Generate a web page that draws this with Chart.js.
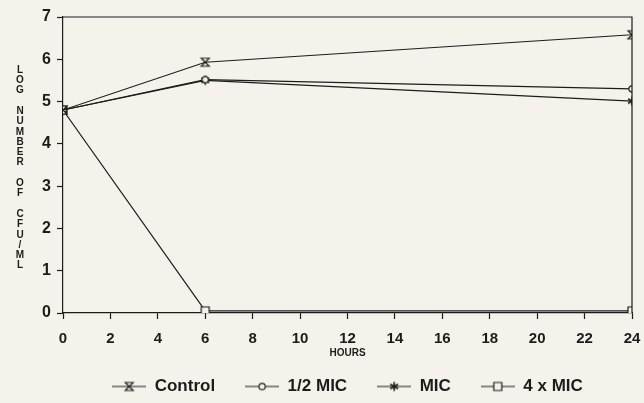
<!DOCTYPE html>
<html>
<head>
<meta charset="utf-8">
<script src="https://cdn.jsdelivr.net/npm/chart.js@4.4.1/dist/chart.umd.min.js"></script>
<style>
    html, body { margin: 0; padding: 0; background: #f4f2ea; }
    #wrap { width: 644px; height: 403px; position: relative; }
</style>
</head>
<body>
<div id="wrap"><canvas id="chart"></canvas></div>
<script>
// Data
const hours = [0, 6, 24];
const controlValues = [4.8, 5.93, 6.58];
const halfMicValues = [4.8, 5.52, 5.3];
const micValues = [4.8, 5.5, 5.01];
const fourMicValues = [4.8, 0.05, 0.05];
const seriesNames = ['Control', '1/2 MIC', 'MIC', '4 x MIC'];
const xTicks = [0, 2, 4, 6, 8, 10, 12, 14, 16, 18, 20, 22, 24];
const yTicks = [0, 1, 2, 3, 4, 5, 6, 7];
const yTitle = 'LOG NUMBER OF CFU/ML';

const ink = '#1c1c1c';
const paper = '#f4f2ea';

// Draw one marker shape on a context, centred at (cx, cy)
function drawMarker(ctx, kind, cx, cy) {
    ctx.strokeStyle = ink;
    ctx.fillStyle = paper;
    ctx.lineWidth = 1.2;
    ctx.beginPath();
    if (kind === 'hourglass') {
        ctx.moveTo(cx - 4, cy - 4); ctx.lineTo(cx + 4, cy - 4);
        ctx.lineTo(cx - 4, cy + 4); ctx.lineTo(cx + 4, cy + 4);
        ctx.closePath();
        ctx.fill();
        ctx.stroke();
    } else if (kind === 'circle') {
        ctx.arc(cx, cy, 3.2, 0, Math.PI * 2);
        ctx.fill();
        ctx.stroke();
    } else if (kind === 'star') {
        ctx.lineWidth = 1.6;
        for (let i = 0; i < 3; i++) {
            const a = Math.PI / 2 + i * Math.PI / 3;
            ctx.moveTo(cx + Math.cos(a) * 4.5, cy + Math.sin(a) * 4.5);
            ctx.lineTo(cx - Math.cos(a) * 4.5, cy - Math.sin(a) * 4.5);
        }
        ctx.stroke();
    } else if (kind === 'square') {
        ctx.rect(cx - 4, cy - 4, 8, 8);
        ctx.fill();
        ctx.stroke();
    }
}

// Canvas icon usable as a Chart.js pointStyle
function makeIcon(kind, w, h) {
    const c = document.createElement('canvas');
    c.width = w;
    c.height = h;
    const ctx = c.getContext('2d');
    if (w > h) {
        ctx.strokeStyle = ink;
        ctx.lineWidth = 1.2;
        ctx.beginPath();
        ctx.moveTo(0, h / 2);
        ctx.lineTo(w, h / 2);
        ctx.stroke();
    }
    drawMarker(ctx, kind, w / 2, h / 2);
    return c;
}

const markerKinds = ['hourglass', 'circle', 'star', 'square'];
const seriesValues = [controlValues, halfMicValues, micValues, fourMicValues];

const datasets = seriesNames.map((name, i) => ({
    label: name,
    data: hours.map((h, j) => ({ x: h, y: seriesValues[i][j] })),
    borderColor: ink,
    borderWidth: 1.2,
    pointStyle: makeIcon(markerKinds[i], 12, 12),
    pointRadius: 5,
    tension: 0,
    fill: false
}));

const legendIcons = markerKinds.map(k => makeIcon(k, 34, 12));

// Draws the top/right frame and the stacked y title
const framePlugin = {
    id: 'frame',
    afterDraw(chart) {
        const { ctx, chartArea } = chart;
        ctx.save();
        ctx.strokeStyle = ink;
        ctx.lineWidth = 1.2;
        ctx.beginPath();
        ctx.moveTo(chartArea.left, chartArea.top);
        ctx.lineTo(chartArea.right, chartArea.top);
        ctx.lineTo(chartArea.right, chartArea.bottom);
        ctx.stroke();

        ctx.fillStyle = ink;
        ctx.font = 'bold 10px "Liberation Sans", Arial, sans-serif';
        ctx.textAlign = 'center';
        ctx.textBaseline = 'middle';
        for (let i = 0; i < yTitle.length; i++) {
            ctx.fillText(yTitle[i], 20, 70 + i * 10.3);
        }
        ctx.restore();
    }
};

new Chart(document.getElementById('chart'), {
    type: 'line',
    data: { datasets: datasets },
    options: {
        responsive: true,
        maintainAspectRatio: false,
        animation: false,
        layout: { padding: { top: 17, right: 12, left: 0, bottom: -2 } },
        scales: {
            x: {
                type: 'linear',
                min: 0,
                max: 24,
                afterBuildTicks: scale => { scale.ticks = xTicks.map(v => ({ value: v })); },
                afterFit: scale => {
                    scale.height = 35;
                    scale.paddingRight = 0;
                },
                grid: { drawOnChartArea: false, drawTicks: true, tickLength: 6, color: ink, tickWidth: 1.2 },
                border: { display: true, color: ink, width: 1.2 },
                ticks: {
                    color: ink,
                    padding: 11,
                    font: { family: '"Liberation Sans", Arial, sans-serif', size: 15, weight: 'bold' }
                },
                title: {
                    display: true,
                    text: 'HOURS',
                    color: ink,
                    padding: { top: 0, bottom: -11 },
                    font: { family: '"Liberation Sans", Arial, sans-serif', size: 10, weight: 'bold' }
                }
            },
            y: {
                min: 0,
                max: 7,
                afterBuildTicks: scale => { scale.ticks = yTicks.map(v => ({ value: v })); },
                afterFit: scale => { scale.width = 63; },
                grid: { drawOnChartArea: false, drawTicks: true, tickLength: 6, color: ink, tickWidth: 1.2 },
                border: { display: true, color: ink, width: 1.2 },
                ticks: {
                    color: ink,
                    padding: 6,
                    font: { family: '"Liberation Sans", Arial, sans-serif', size: 16, weight: 'bold' }
                }
            }
        },
        plugins: {
            legend: {
                position: 'bottom',
                fullSize: false,
                labels: {
                    usePointStyle: true,
                    pointStyleWidth: 34,
                    padding: 30,
                    color: ink,
                    font: { family: '"Liberation Sans", Arial, sans-serif', size: 17, weight: 'bold' },
                    generateLabels: chart => chart.data.datasets.map((ds, i) => ({
                        text: ds.label,
                        pointStyle: legendIcons[i],
                        fillStyle: paper,
                        strokeStyle: ink,
                        lineWidth: 0,
                        fontColor: ink,
                        hidden: false,
                        datasetIndex: i
                    }))
                }
            },
            tooltip: { enabled: false }
        }
    },
    plugins: [framePlugin]
});
</script>
</body>
</html>
